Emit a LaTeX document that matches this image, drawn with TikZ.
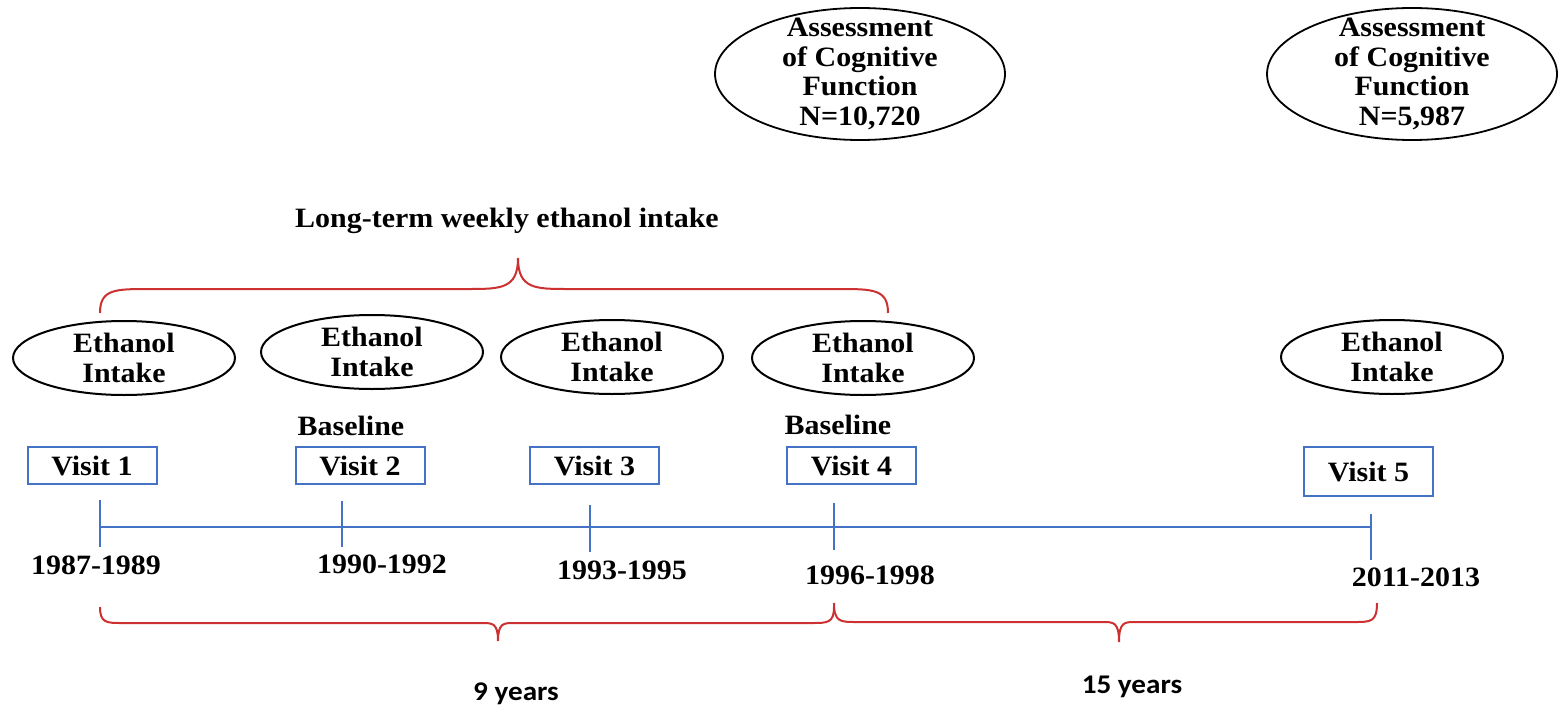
\documentclass[tikz,border=0pt]{standalone}
\usepackage{fontspec}
\setmainfont{Liberation Serif}[FakeStretch=1.07]
\newfontfamily\calfont{Carlito}[FakeStretch=1.08]
\usetikzlibrary{shapes.geometric}

\definecolor{lineblue}{RGB}{68,114,196}
\definecolor{bracered}{RGB}{204,48,48}

% horizontal curly brace: x-left, x-right, x-tip, y-ends, y-bar, y-tip, corner width, tip half-width
\newcommand{\wordbrace}[8]{%
  \draw[bracepen] (#1,#4) .. controls (#1,#5) and ({#1+0.3*#7},#5) .. ({#1+#7},#5)
    -- ({#3-#8},#5) .. controls ({#3-0.35*#8},#5) and (#3,#5) .. (#3,#6)
    .. controls (#3,#5) and ({#3+0.35*#8},#5) .. ({#3+#8},#5)
    -- ({#2-#7},#5) .. controls ({#2-0.3*#7},#5) and (#2,#5) .. (#2,#4);}

\tikzset{
  txt/.style={font=\fontsize{14}{14.75}\selectfont\bfseries, inner sep=0pt, align=center},
  yrs/.style={font=\fontsize{13.5}{15}\selectfont\calfont\bfseries, inner sep=0pt},
  intake/.style={ellipse, draw=black, line width=1pt, inner sep=0pt,
                 minimum width=111pt, minimum height=37pt,
                 label={[txt]center:{Ethanol\\Intake}}},
  assess/.style={ellipse, draw=black, line width=0.9pt, inner sep=0pt,
                 minimum width=145pt, minimum height=66pt},
  visitbox/.style={txt, rectangle, draw=lineblue, line width=1pt,
                   minimum width=64.5pt, minimum height=18.5pt},
  axis/.style={draw=lineblue, line width=0.8pt},
  bracepen/.style={draw=bracered, line width=1pt},
}

\begin{document}
\begin{tikzpicture}[x=0.5pt, y=-0.5pt]
\fill[white] (0,0) rectangle (1558,712);
\useasboundingbox (0,0) rectangle (1558,712);

% cognitive assessments
\node[assess, label={[txt]center:{Assessment\\of Cognitive\\Function\\N=10,720}}] (cog1) at (860,74) {};
\node[assess, label={[txt]center:{Assessment\\of Cognitive\\Function\\N=5,987}}] (cog2) at (1412,74) {};

% long-term intake span
\node[txt, anchor=base] (lt) at (507,227) {Long-term weekly ethanol intake};
\wordbrace{100}{888}{518}{313}{289}{258}{50}{50}

% ethanol intake at each visit
\node[intake] (eth1) at (124,358) {};
\node[intake] (eth2) at (372,352) {};
\node[intake] (eth3) at (612,357) {};
\node[intake] (eth4) at (863,358) {};
\node[intake] (eth5) at (1392,357) {};

% baselines
\node[txt, anchor=base] (base2) at (351,435) {Baseline};
\node[txt, anchor=base] (base4) at (838,434) {Baseline};

% visit boxes
\node[visitbox] (v1) at (92,465.5) {Visit 1};
\node[visitbox] (v2) at (360,465.5) {Visit 2};
\node[visitbox] (v3) at (594.5,465.5) {Visit 3};
\node[visitbox] (v4) at (851.5,465.5) {Visit 4};
\node[visitbox, minimum height=24.5pt] (v5) at (1368.5,471.5) {Visit 5};

% timeline with ticks
\coordinate (t1) at (100,527);
\coordinate (t2) at (342,527);
\coordinate (t3) at (590,527);
\coordinate (t4) at (834,527);
\coordinate (t5) at (1371,527);
\draw[axis] (t1) -- (t5);
\draw[axis] (100,500) -- (100,547);
\draw[axis] (342,501) -- (342,547);
\draw[axis] (590,505) -- (590,552);
\draw[axis] (834,503) -- (834,550);
\draw[axis] (1371,514) -- (1371,560);

% visit years
\node[txt, anchor=base] (y1) at (96,574) {1987-1989};
\node[txt, anchor=base] (y2) at (382,573) {1990-1992};
\node[txt, anchor=base] (y3) at (622,579) {1993-1995};
\node[txt, anchor=base] (y4) at (870,584) {1996-1998};
\node[txt, anchor=base] (y5) at (1416,586) {2011-2013};

% follow-up intervals
\wordbrace{100}{834}{498}{607}{623}{641}{22}{16}
\wordbrace{834}{1377}{1119}{603}{622}{642}{22}{16}
\node[yrs, anchor=base] (nine) at (516,700) {9 years};
\node[yrs, anchor=base] (fifteen) at (1132,693) {15 years};
\end{tikzpicture}
\end{document}
